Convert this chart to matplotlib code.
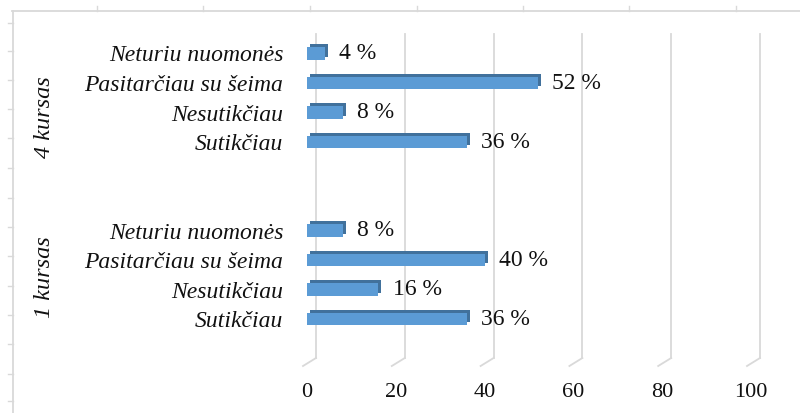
import matplotlib
matplotlib.use("Agg")
import matplotlib.pyplot as plt
from matplotlib.transforms import ScaledTranslation
from matplotlib.lines import Line2D

# ---- data ----
groups = ["1 kursas", "4 kursas"]
categories = ["Sutikčiau", "Nesutikčiau", "Pasitarčiau su šeima", "Neturiu nuomonės"]
values_1kursas = [36, 16, 40, 8]
values_4kursas = [36, 8, 52, 4]
xticks = [0, 20, 40, 60, 80, 100]

W, H = 800, 413
fig = plt.figure(figsize=(W / 100, H / 100), dpi=100)
SERIF = ["Liberation Serif", "DejaVu Serif"]
TXT = "#111111"

def px(dx, dy=0):
    return ScaledTranslation(dx / 100, dy / 100, fig.dpi_scale_trans)

# axes placement (front plane): x 0..100 -> 307..751 px, y bottom px 366, top px 34
AX_W = 444
ax = fig.add_axes([307 / W, (H - 366) / H, AX_W / W, 332 / H])
ax.set_xlim(0, 100)
ax.set_ylim(-1.593, 9.661)
for s in ax.spines.values():
    s.set_visible(False)

n = len(categories)
pos_1 = [i for i in range(n)]
pos_4 = [i + n + 2 for i in range(n)]

# back gridlines with 3D floor hint
grid_c = "#d9d9d9"
xt = ax.get_xaxis_transform()
floor = 8 / 332
u = 100 / AX_W  # data units per pixel
for t in xticks:
    ax.add_line(Line2D([t + 9 * u, t + 9 * u], [floor, 1.0], color=grid_c, lw=1.3,
                       transform=xt, clip_on=False, zorder=0))
    ax.add_line(Line2D([t + 9 * u, t - 4 * u], [floor, 0.0], color=grid_c, lw=1.3,
                       transform=xt, clip_on=False, zorder=0))

# bars with pseudo 3D
front = "#5B9BD5"
side = "#41719C"
h = 0.42
for pos, vals in ((pos_1, values_1kursas), (pos_4, values_4kursas)):
    ax.barh(pos, vals, height=h, color=side, transform=ax.transData + px(3, 3), zorder=2)
    ax.barh(pos, vals, height=h, color=front, zorder=3)
    for p, v in zip(pos, vals):
        ax.annotate(f"{v} %", xy=(v, p), xytext=(10.5, 0), textcoords="offset points",
                    ha="left", va="center", fontsize=17, family=SERIF, color=TXT)

# category labels
ax.set_yticks(pos_1 + pos_4)
ax.set_yticklabels(categories + categories, fontsize=17, family=SERIF, style="italic",
                   color=TXT)
ax.tick_params(axis="y", length=0, pad=17)
ax.set_xticks(xticks)
ax.set_xticklabels([str(t) for t in xticks], fontsize=16, family=SERIF, color=TXT)
ax.tick_params(axis="x", length=0, pad=12)

# group labels
fig.text(44 / W, (H - 277) / H, groups[0], rotation=90, ha="center", va="center",
         fontsize=17.5, family=SERIF, style="italic", color=TXT)
fig.text(44 / W, (H - 117) / H, groups[1], rotation=90, ha="center", va="center",
         fontsize=17.5, family=SERIF, style="italic", color=TXT)

# outer frame fragment
frame_c = "#d9d9d9"
fig.add_artist(Line2D([12 / W, 1.0], [(H - 11) / H] * 2, color=frame_c, lw=1.3))
fig.add_artist(Line2D([12.5 / W] * 2, [0, (H - 11) / H], color=frame_c, lw=1.3))
for x in [97, 203, 310, 417, 523, 629, 736]:
    fig.add_artist(Line2D([x / W] * 2, [(H - 11) / H, (H - 6) / H], color=frame_c, lw=1.0))
for y in [23, 51, 80, 109, 138, 168, 198, 227, 256, 286, 315, 344, 374, 401]:
    fig.add_artist(Line2D([8 / W, 12.5 / W], [(H - y) / H] * 2, color=frame_c, lw=1.0))

fig.savefig("out.png", dpi=100)
